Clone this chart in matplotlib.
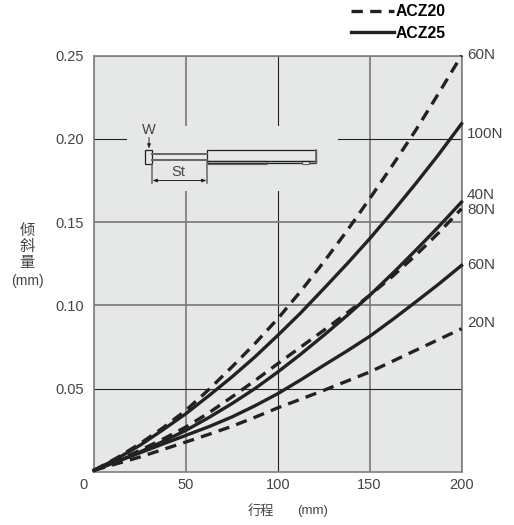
import numpy as np
from matplotlib import pyplot as plt
from matplotlib.patches import Rectangle
from matplotlib.transforms import ScaledTranslation

###################DATA###################
stroke = [0, 12.5, 25, 37.5, 50, 62.5, 75, 87.5, 100, 112.5, 125, 137.5, 150, 162.5, 175, 187.5, 200]

acz20_60N = [0.001, 0.0085, 0.017, 0.0265, 0.037, 0.0495, 0.063, 0.077, 0.092, 0.1085, 0.126, 0.1445, 0.164, 0.1842, 0.205, 0.2272, 0.250]
acz25_100N = [0.001, 0.008, 0.016, 0.0253, 0.035, 0.0458, 0.057, 0.069, 0.082, 0.0955, 0.110, 0.1247, 0.140, 0.1562, 0.173, 0.1905, 0.209]
acz25_40N = [0.001, 0.0063, 0.012, 0.0183, 0.025, 0.0327, 0.041, 0.050, 0.060, 0.0707, 0.082, 0.0937, 0.106, 0.1192, 0.133, 0.1472, 0.162]
acz20_80N = [0.001, 0.0068, 0.013, 0.0197, 0.027, 0.0355, 0.045, 0.0548, 0.065, 0.075, 0.085, 0.0953, 0.106, 0.1175, 0.130, 0.1435, 0.158]
acz25_60N = [0.001, 0.0063, 0.0115, 0.0168, 0.022, 0.0272, 0.033, 0.0397, 0.047, 0.0553, 0.064, 0.0725, 0.0814, 0.0915, 0.102, 0.1127, 0.124]
acz20_20N = [0.001, 0.005, 0.009, 0.0135, 0.018, 0.0226, 0.0274, 0.0328, 0.0385, 0.0437, 0.049, 0.0545, 0.060, 0.0665, 0.073, 0.0795, 0.086]

end_labels = ["60N", "100N", "40N", "80N", "60N", "20N"]
end_label_y = [0.2505, 0.203, 0.1665, 0.157, 0.1245, 0.0895]

x_ticks = [0, 50, 100, 150, 200]
y_ticks = [0.05, 0.10, 0.15, 0.20, 0.25]
y_tick_labels = ["0.05", "0.10", "0.15", "0.20", "0.25"]

###################FIGURE###################
W, H = 514, 525
txt = "#444444"
bg = "#e6e8e8"
plt.rcParams['font.family'] = ['Liberation Sans', 'Noto Sans CJK SC']

fig = plt.figure(figsize=(W/100, H/100), dpi=100)
ax = fig.add_axes([94/W, 1-472/H, (461.5-94)/W, (472-55.5)/H])
ax.set_facecolor(bg)
ax.set_xlim(0, 200)
ax.set_ylim(0, 0.25)
ax.set_xticks(x_ticks)
ax.set_yticks(y_ticks)
ax.set_yticklabels(y_tick_labels)
ax.tick_params(length=0, labelsize=10.5, labelcolor=txt)
ax.tick_params(axis="x", pad=4)
ax.tick_params(axis="y", pad=7)
ax.grid(True)
ax.set_axisbelow(True)
for s in ax.spines.values():
    s.set_color("#808080")
    s.set_linewidth(1.2)

# the grid lines are not all the same weight in the original
thin_x = [100]
thin_y = [0.05, 0.20]
for val, gl in zip(x_ticks, ax.get_xgridlines()):
    gl.set_color("#222222" if val in thin_x else "#777777")
    gl.set_linewidth(0.8 if val in thin_x else 1.2)
for val, gl in zip(y_ticks, ax.get_ygridlines()):
    gl.set_color("#222222" if val in thin_y else "#777777")
    gl.set_linewidth(0.8 if val in thin_y else 1.2)

# "0" sits left of the axis corner
zero = ax.get_xticklabels()[0]
zero.set_transform(zero.get_transform() + ScaledTranslation(-10/100, 0, fig.dpi_scale_trans))

dash = (0, (3.4, 2.2))
lw = 2.4
ln_d, = ax.plot(stroke, acz20_60N, color="#222222", lw=lw, ls=dash, clip_on=False, zorder=4)
ax.plot(stroke, acz20_80N, color="#222222", lw=lw, ls=dash, clip_on=False, zorder=4)
ax.plot(stroke, acz20_20N, color="#222222", lw=lw, ls=dash, clip_on=False, zorder=4)
ln_s, = ax.plot(stroke, acz25_100N, color="#222222", lw=lw, clip_on=False, zorder=4)
ax.plot(stroke, acz25_40N, color="#222222", lw=lw, clip_on=False, zorder=4)
ax.plot(stroke, acz25_60N, color="#222222", lw=lw, clip_on=False, zorder=4)

for name, y in zip(end_labels, end_label_y):
    ax.text(203, y, name, fontsize=11, color=txt, va="center", ha="left", clip_on=False, zorder=5)

leg = fig.legend([ln_d, ln_s], ["ACZ20", "ACZ25"], loc="upper left",
                 bbox_to_anchor=(348/W, 1-1/H), frameon=False, handlelength=2.7,
                 handletextpad=0.15, labelspacing=0.42, borderpad=0.2, borderaxespad=0,
                 prop={'family': 'Liberation Sans', 'weight': 'bold', 'size': 11.3})

# axis captions
for ch, y in zip("倾斜量", [230.5, 247.5, 263.5]):
    fig.text(27/W, 1-y/H, ch, fontsize=11, color=txt, ha="center", va="center")
fig.text(27/W, 1-281/H, "(mm)", fontsize=10, color=txt, ha="center", va="center")
fig.text(260.5/W, 1-511/H, "行程", fontsize=9.5, color=txt, ha="center", va="center")
fig.text(313/W, 1-511/H, "(mm)", fontsize=9.5, color=txt, ha="center", va="center")

###################INSET SKETCH (pixel coords)###################
sk = fig.add_axes([0, 0, 1, 1], facecolor="none")
sk.set_xlim(0, W)
sk.set_ylim(H, 0)
sk.axis("off")
sk.add_patch(Rectangle((127, 126), 211, 65, fc=bg, ec="none"))

g = "#666666"
k = "#222222"
sk.add_patch(Rectangle((145.3, 149.7), 7, 14, fc="none", ec=k, lw=0.9))
for y in [154, 160]:
    sk.plot([152.3, 206.7], [y, y], color=g, lw=1.4)
sk.add_patch(Rectangle((206.7, 150.3), 109, 13, fc="none", ec=k, lw=0.9))
sk.plot([206.7, 315.7], [161.2, 161.2], color=k, lw=1.0)
sk.add_patch(Rectangle((206.7, 161.2), 60, 3.2, fc="none", ec=g, lw=0.9))
sk.add_patch(Rectangle((301.7, 161.2), 7.5, 2.6, fc="white", ec=g, lw=0.9))
sk.plot([315.7, 315.7], [150.3, 163.3], color=g, lw=1.2)
sk.plot([152.3, 152.3], [163.7, 182.5], color=g, lw=1.1)
sk.plot([206.7, 206.7], [163.3, 182.5], color=g, lw=1.1)
sk.annotate("", xy=(152.6, 180.5), xytext=(206.4, 180.5),
            arrowprops=dict(arrowstyle="<|-|>,head_length=0.25,head_width=0.1", color=k, lw=0.7,
                            shrinkA=0, shrinkB=0))
sk.annotate("", xy=(149, 148.5), xytext=(149, 137.5),
            arrowprops=dict(arrowstyle="-|>,head_length=0.25,head_width=0.1", color=k, lw=0.7,
                            shrinkA=0, shrinkB=0))
sk.text(149, 130, "W", fontsize=10.5, color=txt, ha="center", va="center")
sk.text(178.5, 172.5, "St", fontsize=10.5, color=txt, ha="center", va="center")

fig.savefig("out.png", dpi=100)
